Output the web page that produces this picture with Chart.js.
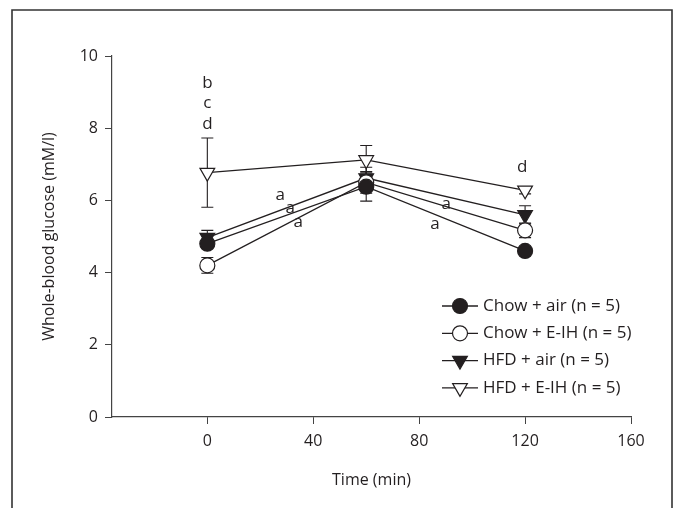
<!DOCTYPE html>
<html>
<head>
<meta charset="utf-8">
<script src="https://cdn.jsdelivr.net/npm/chart.js@4.4.0/dist/chart.umd.min.js"></script>
<style>
  html, body { margin: 0; padding: 0; background: #fff; }
</style>
</head>
<body>
<canvas id="myChart" width="676" height="508"></canvas>
<script>
// time points (min)
const times = [0, 60, 120];

// mean glucose (mM/l) and SEM per group
const chowAir = [4.8, 6.38, 4.6];
const chowAirErr = [0.12, 0.4, 0.1];
const chowEih = [4.2, 6.5, 5.17];
const chowEihErr = [0.22, 0.3, 0.2];
const hfdAir = [4.97, 6.62, 5.6];
const hfdAirErr = [0.2, 0.3, 0.25];
const hfdEih = [6.77, 7.12, 6.28];
const hfdEihErr = [0.96, 0.4, 0.1];

const groupNames = [
  "Chow + air (n = 5)",
  "Chow + E-IH (n = 5)",
  "HFD + air (n = 5)",
  "HFD + E-IH (n = 5)",
];

const xTicks = [0, 40, 80, 120, 160];
const yTicks = [0, 2, 4, 6, 8, 10];

// significance letters, placed in data units
const noteText = ["b", "c", "d", "a", "a", "a", "a", "a", "d"];
const noteX = [0, 0, 0, 27.5, 31.3, 34.3, 90.2, 86, 118.9];
const noteY = [9.25, 8.7, 8.12, 6.15, 5.79, 5.4, 5.9, 5.35, 6.93];

const ink = "#231f20";
const fontFamily = "'Open Sans', 'DejaVu Sans', sans-serif";

const toPoints = (vals) => vals.map((v, i) => ({ x: times[i], y: v }));

const groups = [
  { values: chowAir, err: chowAirErr, style: "circle", fill: ink, rot: 0, r: 7.5 },
  { values: chowEih, err: chowEihErr, style: "circle", fill: "#fff", rot: 0, r: 7.5 },
  { values: hfdAir, err: hfdAirErr, style: "triangle", fill: ink, rot: 180, r: 8.5 },
  { values: hfdEih, err: hfdEihErr, style: "triangle", fill: "#fff", rot: 180, r: 8.5 },
];

const drawMarker = (ctx, g, x, y) => {
  ctx.save();
  ctx.fillStyle = g.fill;
  ctx.strokeStyle = ink;
  ctx.lineWidth = 1.2;
  ctx.beginPath();
  if (g.style === "circle") {
    ctx.arc(x, y, g.r, 0, Math.PI * 2);
  } else {
    // pointing down, same geometry as Chart.js triangle rotated 180
    let rad = Math.PI;
    for (let k = 0; k < 3; k++) {
      const px = x + Math.sin(rad) * g.r;
      const py = y - Math.cos(rad) * g.r;
      if (k === 0) ctx.moveTo(px, py); else ctx.lineTo(px, py);
      rad += (Math.PI * 2) / 3;
    }
    ctx.closePath();
  }
  ctx.fill();
  ctx.stroke();
  ctx.restore();
};

const framePlugin = {
  id: "frame",
  beforeDraw(chart) {
    const ctx = chart.ctx;
    ctx.save();
    ctx.strokeStyle = "#333";
    ctx.lineWidth = 1.6;
    ctx.beginPath();
    ctx.moveTo(12, 520);
    ctx.lineTo(12, 10);
    ctx.lineTo(672, 10);
    ctx.lineTo(672, 520);
    ctx.stroke();
    ctx.restore();
  },
};

const errorBarPlugin = {
  id: "errorBars",
  beforeDatasetsDraw(chart) {
    const ctx = chart.ctx;
    const xs = chart.scales.x;
    const ys = chart.scales.y;
    ctx.save();
    ctx.strokeStyle = ink;
    ctx.lineWidth = 1.1;
    groups.forEach((g) => {
      g.values.forEach((v, i) => {
        const px = xs.getPixelForValue(times[i]);
        const top = ys.getPixelForValue(v + g.err[i]);
        const bot = ys.getPixelForValue(v - g.err[i]);
        ctx.beginPath();
        ctx.moveTo(px, top);
        ctx.lineTo(px, bot);
        ctx.moveTo(px - 6, top);
        ctx.lineTo(px + 6, top);
        ctx.moveTo(px - 6, bot);
        ctx.lineTo(px + 6, bot);
        ctx.stroke();
      });
    });
    ctx.restore();
  },
};

const notesPlugin = {
  id: "notes",
  afterDatasetsDraw(chart) {
    const ctx = chart.ctx;
    const xs = chart.scales.x;
    const ys = chart.scales.y;
    ctx.save();
    ctx.fillStyle = ink;
    ctx.font = "17px " + fontFamily;
    ctx.textAlign = "center";
    ctx.textBaseline = "middle";
    noteText.forEach((t, i) => {
      ctx.fillText(t, xs.getPixelForValue(noteX[i]), ys.getPixelForValue(noteY[i]));
    });
    ctx.restore();
  },
};

const legendPlugin = {
  id: "boxLegend",
  afterDraw(chart) {
    const ctx = chart.ctx;
    const area = chart.chartArea;
    const x0 = area.right - 189;
    const y0 = area.top + 250;
    ctx.save();
    ctx.font = "17px " + fontFamily;
    ctx.textBaseline = "middle";
    ctx.textAlign = "left";
    groups.forEach((g, i) => {
      const y = y0 + i * 27.3;
      ctx.strokeStyle = ink;
      ctx.lineWidth = 1.3;
      ctx.beginPath();
      ctx.moveTo(x0, y);
      ctx.lineTo(x0 + 36, y);
      ctx.stroke();
      drawMarker(ctx, g, x0 + 18, y);
      ctx.fillStyle = ink;
      ctx.fillText(groupNames[i], x0 + 41, y);
    });
    ctx.restore();
  },
};

Chart.defaults.font.family = fontFamily;
Chart.defaults.color = ink;

const ctx = document.getElementById("myChart");
new Chart(ctx, {
  type: "line",
  data: {
    datasets: groups.map((g, i) => ({
      label: groupNames[i],
      data: toPoints(g.values),
      borderColor: ink,
      borderWidth: 1.3,
      pointStyle: g.style,
      pointRotation: g.rot,
      pointRadius: g.r,
      pointHoverRadius: g.r,
      pointBackgroundColor: g.fill,
      pointBorderColor: ink,
      pointBorderWidth: 1.2,
      fill: false,
      tension: 0,
    })),
  },
  options: {
    responsive: false,
    animation: false,
    devicePixelRatio: 1,
    layout: { padding: { left: 0, right: 45, top: 56, bottom: 0 } },
    plugins: {
      legend: { display: false },
      tooltip: { enabled: false },
    },
    scales: {
      x: {
        type: "linear",
        min: -36,
        max: 160,
        afterBuildTicks: (scale) => {
          scale.ticks = xTicks.map((v) => ({ value: v }));
        },
        afterFit: (scale) => {
          scale.height = 91;
        },
        ticks: { font: { size: 16 }, padding: 8, color: ink, maxRotation: 0 },
        grid: { drawOnChartArea: false, drawTicks: true, tickLength: 7, color: "#444" },
        border: { display: true, color: "#444", width: 1.2 },
        title: {
          display: true,
          text: "Time (min)",
          font: { size: 16 },
          color: ink,
          padding: { top: 0, bottom: 18 },
        },
      },
      y: {
        min: 0,
        max: 10,
        afterBuildTicks: (scale) => {
          scale.ticks = yTicks.map((v) => ({ value: v }));
        },
        afterFit: (scale) => {
          scale.width = 112;
        },
        ticks: { font: { size: 16 }, padding: 7, color: ink },
        grid: { drawOnChartArea: false, drawTicks: true, tickLength: 7, color: "#444" },
        border: { display: true, color: "#444", width: 1.2 },
        title: {
          display: true,
          text: "Whole-blood glucose (mM/l)",
          font: { size: 16 },
          color: ink,
          padding: { top: 40, bottom: 0 },
        },
      },
    },
  },
  plugins: [framePlugin, errorBarPlugin, notesPlugin, legendPlugin],
});
</script>
</body>
</html>
